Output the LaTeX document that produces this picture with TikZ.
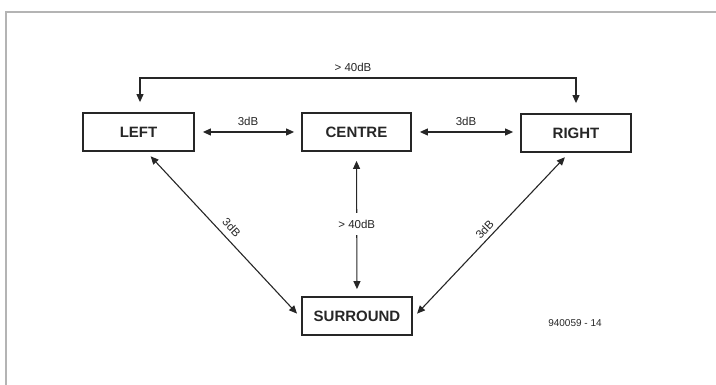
\documentclass[tikz,border=0pt]{standalone}
\usepackage{fontspec}
\setmainfont{Liberation Sans}
\usetikzlibrary{arrows.meta}
\definecolor{ink}{HTML}{262626}
\definecolor{rule}{HTML}{B4B4B4}
\tikzset{
  chan/.style={draw=ink, line width=1.8pt, minimum height=38pt, inner sep=0pt,
    font=\fontsize{15}{15}\selectfont\bfseries, text=ink},
  link/.style={draw=ink, line width=1.1pt, {Triangle[length=8pt,width=7pt]}-{Triangle[length=8pt,width=7pt]}},
  lvl/.style={font=\fontsize{11.5}{12}\selectfont, text=ink, inner sep=1pt}
}
\begin{document}
\begin{tikzpicture}[x=1pt,y=-1pt]
\useasboundingbox (0,0) rectangle (716,385);
% frame rules
\draw[rule, line width=1.4pt] (716,12) -- (6,12) -- (6,385);

% channel boxes
\node[chan, minimum width=111pt] (L) at (138.5,132) {LEFT};
\node[chan, minimum width=109pt] (C) at (356.5,132) {CENTRE};
\node[chan, minimum width=110pt] (R) at (576,133) {RIGHT};
\node[chan, minimum width=110pt] (S) at (357,316) {SURROUND};

% left-right separation over the top
\coordinate (tl) at (140,78);
\coordinate (tr) at (576,78);
\draw[link, shorten <=10pt, shorten >=10pt] (tl |- L.north) -- (tl) -- (tr) -- (tr |- R.north);
\node[lvl] (t1) at (353,67) {> 40dB};

% neighbouring channels
\draw[link, shorten <=8pt, shorten >=7pt] (L.east) -- node[lvl, above=5pt] (t2) {3dB} (C.west);
\draw[link, shorten <=8pt, shorten >=7pt] (C.east) -- node[lvl, above=5pt] (t3) {3dB} (C.east -| R.west);

% centre to surround
\draw[link, shorten <=9pt, shorten >=7pt] (C.south) -- node[lvl, fill=white, inner ysep=7pt] (t4) {> 40dB} (S.north);

% diagonals to surround
\draw[link, shorten <=6pt, shorten >=6pt] ([xshift=8pt]L.south) -- node[lvl, sloped, above=5pt] (t5) {3dB} ([yshift=-2pt]S.west);
\draw[link, shorten <=6pt, shorten >=6pt] ([xshift=-7pt]R.south) -- node[lvl, sloped, above=3pt] (t6) {3dB} ([yshift=-2pt]S.east);

% figure number
\node[text=ink, font=\fontsize{10}{10}\selectfont] (fig) at (575,323) {940059 - 14};
\end{tikzpicture}
\end{document}
